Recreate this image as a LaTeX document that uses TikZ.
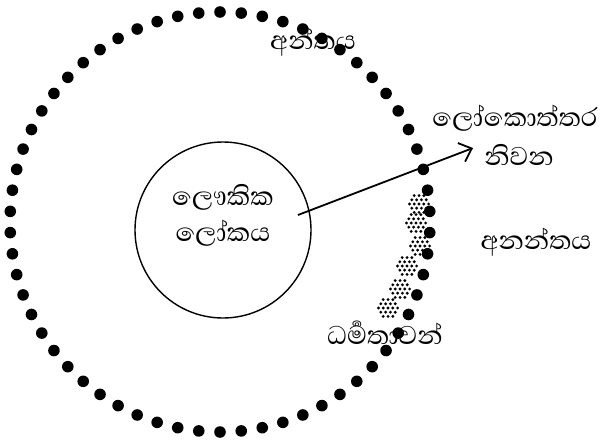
\documentclass[tikz,border=0pt]{standalone}
\usepackage{fontspec}
\newfontfamily\sinhalafnt[Script=Sinhala]{Abhaya Libre}
\usetikzlibrary{arrows.meta}
\tikzset{
  bigdot/.style={fill=black},
  smalldot/.style={fill=black},
  lbl/.style={font=\sinhalafnt\fontsize{33}{36}\selectfont, inner sep=0pt, align=center},
  ring/.style={circle, draw, line width=1.4pt, minimum size=176pt, inner sep=0pt},
  arr/.style={line width=1.8pt, -{Straight Barb[length=11pt,width=20pt,line width=1.8pt]}}
}
\begin{document}
\begin{tikzpicture}[x=1pt,y=-1pt]
\useasboundingbox (0,0) rectangle (602,439);
% clusters of small dots
\foreach \cx/\cy in {419/204, 416/223, 420/246, 407/266, 400/289, 388/308}{
  \foreach \j in {-2,...,2}{
    \foreach \i in {-3,...,3}{
      \pgfmathsetmacro\xx{(\i+0.5*mod(abs(\j),2))*4.8}
      \pgfmathsetmacro\yy{\j*4.2}
      \pgfmathparse{(\xx*\xx+\yy*\yy)<=125?1:0}
      \ifnum\pgfmathresult=1
        \fill[smalldot] (\cx+\xx,\cy+\yy) circle (1.6);
      \fi
    }
  }
}
% dotted outer ring
\foreach \k in {0,...,61}{
  \pgfmathsetmacro\ang{90+\k*5.80645}
  \fill[bigdot] ({220+210*cos(\ang)},{222-210*sin(\ang)}) circle (5.8);
}
% inner circle
\node[ring] (lok) at (223,230) {};
\node[lbl] (t1) at (223,197) {ලෞකික};
\node[lbl] (t2) at (223,233) {ලෝකය};
\coordinate (from) at (298,215);
\coordinate (tip) at (473,148);
\draw[arr] (from) -- (tip);
\node[lbl] (anta) at (313,42) {අන්තය};
\node[lbl] (lok1) at (515,118) {ලෝකොත්තර};
\node[lbl] (lok2) at (519,155) {නිවන};
\node[lbl] (anan) at (536,242) {අනන්තය};
\node[lbl] (dham) at (385,333) {ධර්^^^^200dමතාවන්};
\end{tikzpicture}
\end{document}
